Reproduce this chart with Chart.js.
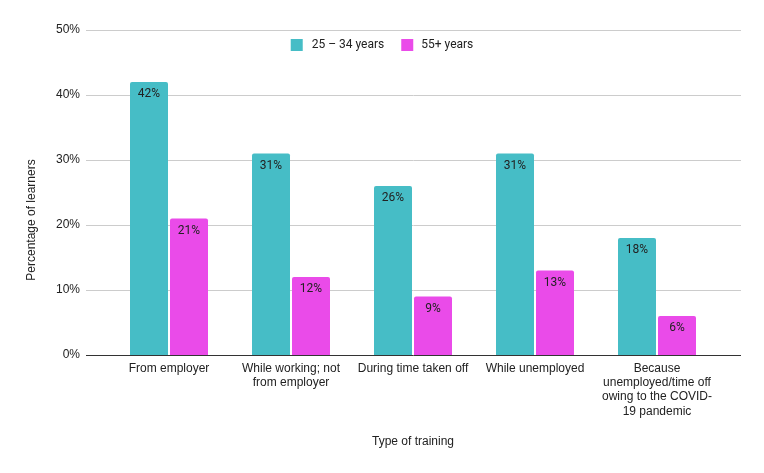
<!DOCTYPE html>
<html lang="en">
<head>
  <meta charset="UTF-8">
  <script src="https://cdn.jsdelivr.net/npm/chart.js"></script>
  <title>Type of training by age</title>
  <style>
    html, body { margin: 0; padding: 0; background: #fff; }
    #wrap { width: 764px; height: 473px; }
  </style>
</head>
<body>
  <div id="wrap"><canvas id="chart" width="764" height="473"></canvas></div>
  <script>
    const categories = [
      'From employer',
      ['While working; not', 'from employer'],
      'During time taken off',
      'While unemployed',
      ['Because', 'unemployed/time off', 'owing to the COVID-', '19 pandemic']
    ];
    const seriesNames = ['25 \u2013 34 years', '55+ years'];
    const young = [42, 31, 26, 31, 18];
    const older = [21, 12, 9, 13, 6];
    const yTicks = [0, 10, 20, 30, 40, 50];
    const colors = ['#46bdc6', '#ea4be9'];

    const axisFont = { family: 'Liberation Sans, Arial, sans-serif', size: 12 };
    const textColor = '#222222';

    // gridlines in the sheets style run a little past the bars on both sides
    const extras = {
      id: 'extras',
      beforeDatasetsDraw(chart) {
        const { ctx, chartArea, scales } = chart;
        const x0 = chartArea.left - 22, x1 = chartArea.right + 23;
        ctx.save();
        yTicks.forEach(v => {
          const y = Math.round(scales.y.getPixelForValue(v)) + 0.5;
          ctx.strokeStyle = v === 0 ? '#333333' : '#cccccc';
          ctx.lineWidth = 1;
          ctx.beginPath();
          ctx.moveTo(x0, y);
          ctx.lineTo(x1, y);
          ctx.stroke();
        });
        ctx.restore();
      },
      afterDatasetsDraw(chart) {
        const { ctx } = chart;
        ctx.save();
        ctx.font = '12px Roboto, sans-serif';
        ctx.fillStyle = textColor;
        ctx.textAlign = 'center';
        ctx.textBaseline = 'middle';
        chart.data.datasets.forEach((ds, i) => {
          chart.getDatasetMeta(i).data.forEach((bar, j) => {
            ctx.fillText(ds.data[j] + '%', bar.x, bar.y + 12);
          });
        });
        ctx.restore();
      },
      afterDraw(chart) {
        const { ctx, chartArea } = chart;
        ctx.save();
        // axis titles
        ctx.font = '12px Liberation Sans, Arial, sans-serif';
        ctx.fillStyle = textColor;
        ctx.textAlign = 'center';
        ctx.textBaseline = 'middle';
        ctx.fillText('Type of training', (chartArea.left + chartArea.right) / 2, 442);
        ctx.translate(32, 220);
        ctx.rotate(-Math.PI / 2);
        ctx.fillText('Percentage of learners', 0, 0);
        ctx.restore();

        // legend
        ctx.save();
        ctx.font = '12px Roboto, sans-serif';
        ctx.textBaseline = 'middle';
        ctx.textAlign = 'left';
        const w0 = ctx.measureText(seriesNames[0]).width;
        const w1 = ctx.measureText(seriesNames[1]).width;
        const total = 12 + 9 + w0 + 17 + 12 + 8 + w1;
        let x = 382 - total / 2;
        const y = 45;
        ctx.fillStyle = colors[0];
        ctx.fillRect(x, y - 6, 12, 12);
        x += 21;
        ctx.fillStyle = textColor;
        ctx.fillText(seriesNames[0], x, y);
        x += w0 + 17;
        ctx.fillStyle = colors[1];
        ctx.fillRect(x, y - 6, 12, 12);
        x += 20;
        ctx.fillStyle = textColor;
        ctx.fillText(seriesNames[1], x, y);
        ctx.restore();
      }
    };

    new Chart(document.getElementById('chart'), {
      type: 'bar',
      data: {
        labels: categories,
        datasets: [
          { label: seriesNames[0], data: young, backgroundColor: colors[0] },
          { label: seriesNames[1], data: older, backgroundColor: colors[1] }
        ]
      },
      options: {
        responsive: false,
        animation: false,
        devicePixelRatio: 1,
        layout: { padding: { top: 30, right: 46, bottom: 0, left: 0 } },
        datasets: {
          bar: { barPercentage: 0.95, categoryPercentage: 80 / 122, borderRadius: { topLeft: 2, topRight: 2 } }
        },
        plugins: {
          legend: { display: false },
          tooltip: { enabled: false }
        },
        scales: {
          x: {
            grid: { display: false, drawTicks: false },
            border: { display: false },
            ticks: { font: axisFont, color: textColor, maxRotation: 0, autoSkip: false, padding: 6 },
            afterFit(scale) { scale.height = 118; }
          },
          y: {
            min: 0,
            max: 50,
            grid: { display: false, drawTicks: false },
            border: { display: false },
            afterBuildTicks(scale) { scale.ticks = yTicks.map(v => ({ value: v })); },
            ticks: { font: axisFont, color: textColor, padding: 28, callback: v => v + '%' },
            afterFit(scale) {
              scale.width = 108;
              scale.paddingTop = 0;
              scale.paddingBottom = 0;
            }
          }
        }
      },
      plugins: [extras]
    });
  </script>
</body>
</html>
